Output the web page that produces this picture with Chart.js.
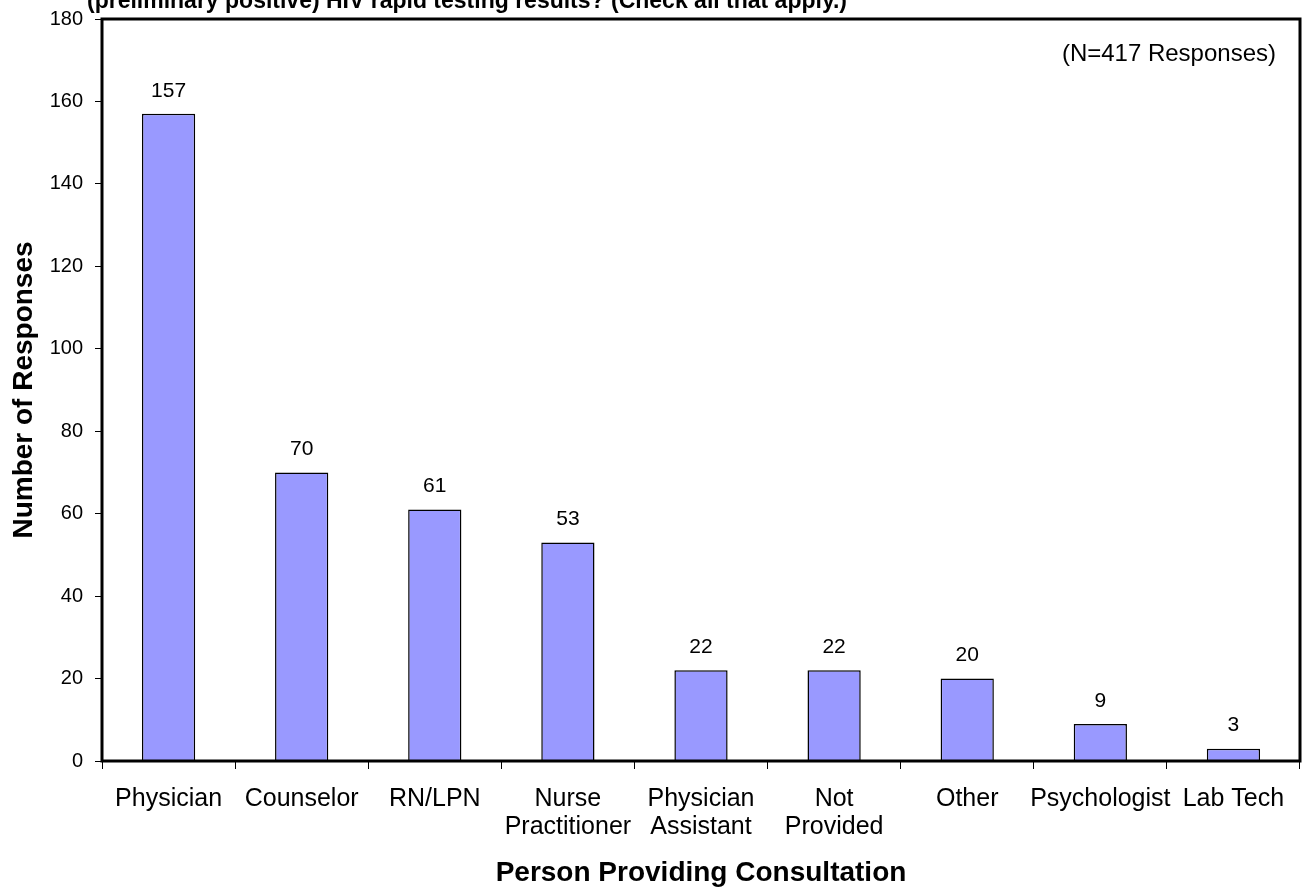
<!DOCTYPE html>
<html>
<head>
<meta charset="utf-8">
<script src="https://cdn.jsdelivr.net/npm/chart.js@4"></script>
<style>
  html, body { margin: 0; padding: 0; background: #fff; }
  #wrap { width: 1312px; height: 888px; }
</style>
</head>
<body>
<div id="wrap"><canvas id="consult-chart" width="1312" height="888"></canvas></div>
<script>
const categories = ['Physician', 'Counselor', 'RN/LPN', ['Nurse', 'Practitioner'], ['Physician', 'Assistant'], ['Not', 'Provided'], 'Other', 'Psychologist', 'Lab Tech'];
const responses = [157, 70, 61, 53, 22, 22, 20, 9, 3];
const titleText = '(preliminary positive) HIV rapid testing results? (Check all that apply.)';
const noteText = '(N=417 Responses)';

const font = 'Arial, "Liberation Sans", sans-serif';

// top title (cut off), note, value labels and the heavy plot frame
const extras = {
    id: 'extras',
    afterDraw(chart) {
        const ctx = chart.ctx;
        const area = chart.chartArea;
        ctx.save();
        ctx.fillStyle = '#000';
        ctx.font = 'bold 23px ' + font;
        ctx.textAlign = 'left';
        ctx.textBaseline = 'alphabetic';
        ctx.fillText(titleText, 87, 8);

        ctx.font = '24px ' + font;
        ctx.textAlign = 'right';
        ctx.textBaseline = 'middle';
        ctx.fillText(noteText, 1276, 54);

        ctx.font = '21px ' + font;
        ctx.textAlign = 'center';
        chart.getDatasetMeta(0).data.forEach((bar, i) => {
            ctx.fillText(String(responses[i]), bar.x, bar.y - 23);
        });

        ctx.lineWidth = 3;
        ctx.strokeStyle = '#000';
        ctx.strokeRect(area.left, area.top, area.right - area.left, area.bottom - area.top);
        ctx.restore();
    }
};

const ctx = document.querySelector('#consult-chart').getContext('2d');
let chart = new Chart(ctx, {
    type: 'bar',
    data: {
        labels: categories,
        datasets: [{
            data: responses,
            backgroundColor: '#9999FF',
            borderColor: '#000',
            borderWidth: 1.5,
            categoryPercentage: 1,
            barPercentage: 0.4
        }]
    },
    options: {
        responsive: false,
        animation: false,
        devicePixelRatio: 1,
        layout: { padding: { top: 19, right: 12, left: 0, bottom: 0 } },
        plugins: {
            legend: { display: false },
            tooltip: { enabled: false }
        },
        scales: {
            x: {
                grid: { offset: true, drawOnChartArea: false, tickLength: 8, color: '#000', lineWidth: 1 },
                border: { color: '#000', width: 1 },
                ticks: { color: '#000', font: { family: font, size: 25, lineHeight: 1.12 }, padding: 16, maxRotation: 0, autoSkip: false },
                title: { display: true, text: 'Person Providing Consultation', color: '#000', font: { family: font, size: 28, weight: 'bold', lineHeight: 1 }, padding: { top: 0, bottom: 1 } },
                afterFit(scale) {
                    scale.height = 127;
                    scale.paddingLeft = 0;
                    scale.paddingRight = 0;
                }
            },
            y: {
                min: 0,
                max: 180,
                ticks: { stepSize: 20, color: '#000', font: { family: font, size: 20 }, padding: 12 },
                grid: { drawOnChartArea: false, tickLength: 7, color: '#000' },
                border: { color: '#000', width: 1 },
                title: { display: true, text: 'Number of Responses', color: '#000', font: { family: font, size: 28, weight: 'bold' }, padding: { top: 7, bottom: 0 } },
                afterFit(scale) {
                    scale.width = 102;
                    scale.paddingTop = 0;
                    scale.paddingBottom = 0;
                }
            }
        }
    },
    plugins: [extras]
});
</script>
</body>
</html>
